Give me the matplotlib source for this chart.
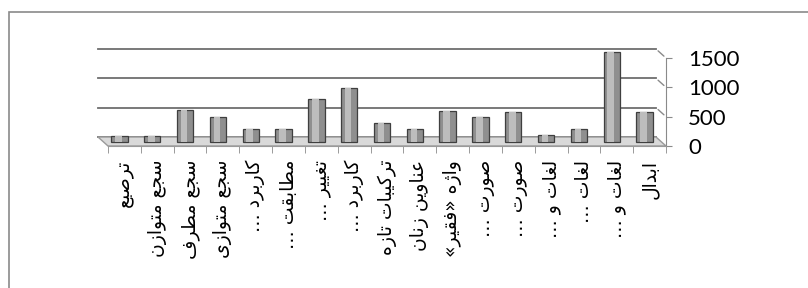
import matplotlib
matplotlib.use('Agg')
import matplotlib.pyplot as plt
from matplotlib.patches import Rectangle, Polygon
from matplotlib.transforms import ScaledTranslation

# ---------------------------------------------------------------------------
# Data (left to right as shown in the chart)
# ---------------------------------------------------------------------------
labels = [
    'ترصیع', 'سجع متوازن', 'سجع مطرف', 'سجع متوازی', 'کاربرد …',
    'مطابقت …', 'تغییر …', 'کاربرد …', 'ترکیبات تازه', 'عناوین زنان',
    'واژه «فقیر»', 'صورت …', 'صورت …', 'لغات و …', 'لغات …',
    'لغات و …', 'ابدال',
]
values = [100, 100, 530, 420, 220, 220, 730, 920, 320, 210,
          520, 415, 510, 110, 210, 1530, 500]
yticks = [0, 500, 1000, 1500]

# ---------------------------------------------------------------------------
# Minimal Arabic/Persian shaping (matplotlib has no bidi / joining support)
# forms: isolated, final, initial, medial
# ---------------------------------------------------------------------------
FORMS = {
    'ا': ('\uFE8D', '\uFE8E', None, None),
    'ب': ('\uFE8F', '\uFE90', '\uFE91', '\uFE92'),
    'ت': ('\uFE95', '\uFE96', '\uFE97', '\uFE98'),
    'ج': ('\uFE9D', '\uFE9E', '\uFE9F', '\uFEA0'),
    'د': ('\uFEA9', '\uFEAA', None, None),
    'ر': ('\uFEAD', '\uFEAE', None, None),
    'ز': ('\uFEAF', '\uFEB0', None, None),
    'ژ': ('\uFB8A', '\uFB8B', None, None),
    'س': ('\uFEB1', '\uFEB2', '\uFEB3', '\uFEB4'),
    'ص': ('\uFEB9', '\uFEBA', '\uFEBB', '\uFEBC'),
    'ط': ('\uFEC1', '\uFEC2', '\uFEC3', '\uFEC4'),
    'ع': ('\uFEC9', '\uFECA', '\uFECB', '\uFECC'),
    'غ': ('\uFECD', '\uFECE', '\uFECF', '\uFED0'),
    'ف': ('\uFED1', '\uFED2', '\uFED3', '\uFED4'),
    'ق': ('\uFED5', '\uFED6', '\uFED7', '\uFED8'),
    'ل': ('\uFEDD', '\uFEDE', '\uFEDF', '\uFEE0'),
    'م': ('\uFEE1', '\uFEE2', '\uFEE3', '\uFEE4'),
    'ن': ('\uFEE5', '\uFEE6', '\uFEE7', '\uFEE8'),
    'ه': ('\uFEE9', '\uFEEA', '\uFEEB', '\uFEEC'),
    'و': ('\uFEED', '\uFEEE', None, None),
    'ک': ('\uFB8E', '\uFB8F', '\uFB90', '\uFB91'),
    'ی': ('\uFBFC', '\uFBFD', '\uFBFE', '\uFBFF'),
}


def shape(txt):
    out = []
    for i, c in enumerate(txt):
        if c not in FORMS:
            out.append(c)
            continue
        iso, fin, ini, med = FORMS[c]
        prev = txt[i - 1] if i > 0 else ''
        nxt = txt[i + 1] if i + 1 < len(txt) else ''
        jp = prev in FORMS and FORMS[prev][2] is not None
        jn = nxt in FORMS and ini is not None
        if jp and jn:
            out.append(med)
        elif jp:
            out.append(fin)
        elif jn:
            out.append(ini)
        else:
            out.append(iso)
    vis = ''.join(out)[::-1]
    return vis.translate(str.maketrans('«»', '»«'))


# ---------------------------------------------------------------------------
# Figure
# ---------------------------------------------------------------------------
W, H = 808, 288
fig = plt.figure(figsize=(W / 100, H / 100), dpi=100)
fig.patch.set_facecolor('white')

# outer chart frame
fig.patches.append(Rectangle((9 / W, -0.01), 1.0, 1 - 12 / H + 0.01,
                             transform=fig.transFigure, fill=False,
                             edgecolor='#8a8a8a', linewidth=1.2))

# front plane of the pseudo-3D plot area
ax = fig.add_axes([108 / W, 142 / H, 558 / W, 88 / H])
n = len(values)
ax.set_xlim(-0.5, n - 0.5)
ax.set_ylim(0, 1500)

px_x = 558 / n          # pixels per category
px_y = 88 / 1500        # pixels per unit

def offset(dx, dy):
    return ax.transData + ScaledTranslation(dx / 100, dy / 100, fig.dpi_scale_trans)

# back wall gridlines + slanted joins to the axis
back = offset(-10, 9)
for v in yticks:
    ax.plot([-0.5, n - 0.5], [v, v], color='#6e6e6e', lw=1.3,
            transform=back, clip_on=False, zorder=1)
    if v > 0:
        ax.annotate('', xy=(n - 0.5, v), xytext=(-10, 9),
                    textcoords='offset pixels', xycoords='data',
                    arrowprops=dict(arrowstyle='-', color='#8a8a8a', lw=1),
                    annotation_clip=False)

# floor
dxu, dyu = 10 / px_x, 9 / px_y
floor = Polygon([(-0.5, 0), (n - 0.5, 0), (n - 0.5 - dxu, dyu), (-0.5 - dxu, dyu)],
                closed=True, facecolor='#d9d9d9', edgecolor='#9a9a9a',
                lw=1, clip_on=False, zorder=1.5)
ax.add_patch(floor)

# bars (mid depth)
mid = offset(-5, 4.5)
x = list(range(n))
ax.bar(x, values, width=0.5, color='#8f8f8f', edgecolor='#3f3f3f',
       linewidth=0.9, transform=mid, clip_on=False, zorder=3)
ax.bar(x, values, width=0.2, color='#bdbdbd', linewidth=0,
       transform=offset(-6, 4.5), clip_on=False, zorder=3.5)

# axes styling
for s in ['left', 'top']:
    ax.spines[s].set_visible(False)
ax.spines['right'].set_color('#8a8a8a')
ax.spines['bottom'].set_color('#9a9a9a')
ax.patch.set_alpha(0)

ax.yaxis.tick_right()
ax.set_yticks(yticks)
ax.set_yticklabels([str(v) for v in yticks], fontsize=16, family='Lato')
ax.tick_params(axis='y', length=4, color='#8a8a8a', pad=12)

ax.set_xticks(x)
ax.set_xticklabels([shape(l) for l in labels], rotation=90, fontsize=13.5,
                   family='DejaVu Sans', va='top', ha='center')
for t in ax.get_xticklabels():
    t.set_transform(t.get_transform() + ScaledTranslation(0.05, 0, fig.dpi_scale_trans))
ax.set_xticks([i - 0.5 for i in range(n + 1)], minor=True)
ax.tick_params(axis='x', which='major', length=0, pad=10)
ax.tick_params(axis='x', which='minor', length=5, color='#8a8a8a')

fig.savefig('out.png', dpi=100, facecolor='white')
